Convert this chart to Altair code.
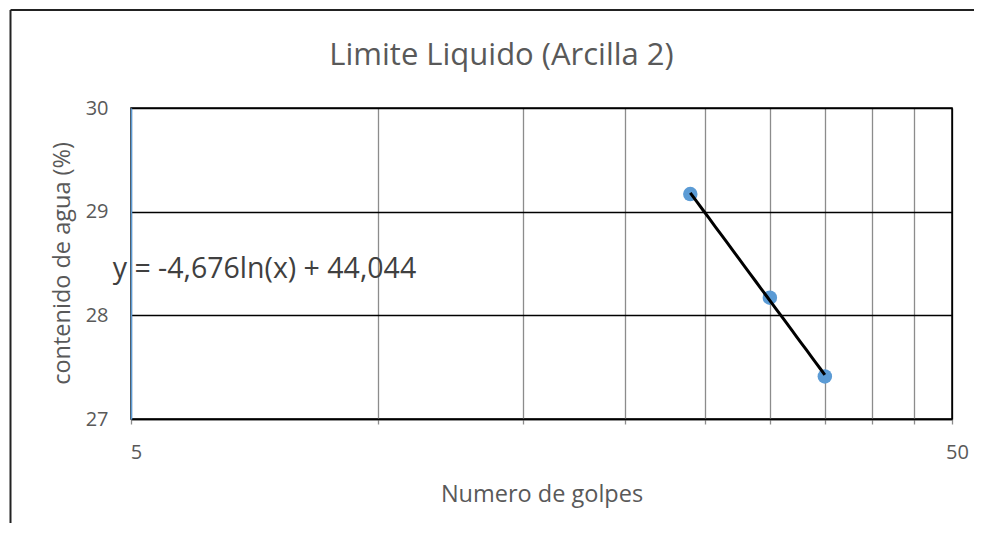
import altair as alt
import pandas as pd

# Data
golpes = [24, 30, 35]
agua = [29.17, 28.17, 27.41]

x_ticks = [5, 10, 15, 20, 25, 30, 35, 40, 45, 50]
y_ticks = [27, 28, 29, 30]

equation = "y = -4,676ln(x) + 44,044"
eq_x = 4.75
eq_y = 28.36

df = pd.DataFrame({"golpes": golpes, "agua": agua})
eq_df = pd.DataFrame({"golpes": [eq_x], "agua": [eq_y], "label": [equation]})
frame_df = pd.DataFrame({"k": [0]})

label_color = "#595959"

x_scale = alt.Scale(type="log", domain=[5, 50], nice=False)
y_scale = alt.Scale(domain=[27, 30], nice=False, zero=False)

x_axis = alt.Axis(
    values=x_ticks,
    labelExpr="(datum.value == 5 || datum.value == 50) ? datum.label : ''",
    grid=True,
    gridColor={"condition": {"test": "datum.value == 50", "value": "#000000"}, "value": "#8c8c8c"},
    gridWidth=1.3,
    tickColor="#8c8c8c",
    tickSize=5,
    tickWidth=1.3,
    domainColor="#000000",
    domainWidth=1.5,
    labelFontSize=20,
    labelColor=label_color,
    labelBaseline="middle",
    labelPadding=28,
    labelOffset=5,
    labelFlush=False,
    title="Numero de golpes",
    titleFontSize=23.5,
    titleFontWeight="normal",
    titleColor=label_color,
    titleX=410.5,
    titleY=75,
    titleBaseline="middle",
    titleAlign="center",
)

y_axis = alt.Axis(
    values=y_ticks,
    format="d",
    grid=True,
    gridColor="#000000",
    gridWidth=1.3,
    ticks=False,
    tickSize=0,
    domainColor="#5B9BD5",
    domainWidth=1.5,
    labelFontSize=20,
    labelColor=label_color,
    labelPadding=23,
    title="contenido de agua (%)",
    titleFontSize=23.5,
    titleFontWeight="normal",
    titleColor=label_color,
    titleX=-69,
    titleY=155,
    titleAngle=270,
    titleBaseline="middle",
    titleAlign="center",
)

points = alt.Chart(df).mark_circle(size=210, color="#5B9BD5", opacity=1).encode(
    x=alt.X("golpes:Q", scale=x_scale, axis=x_axis),
    y=alt.Y("agua:Q", scale=y_scale, axis=y_axis),
)

trend = (
    alt.Chart(df)
    .transform_regression("golpes", "agua", method="log")
    .mark_line(color="black", strokeWidth=3)
    .encode(x=alt.X("golpes:Q", scale=x_scale), y=alt.Y("agua:Q", scale=y_scale))
)

eq_text = alt.Chart(eq_df).mark_text(
    align="left", baseline="alphabetic", fontSize=28.5, color="#404040"
).encode(
    x=alt.X("golpes:Q", scale=x_scale),
    y=alt.Y("agua:Q", scale=y_scale),
    text="label:N",
)

frame_left = alt.Chart(frame_df).mark_rule(color="#222222", strokeWidth=2).encode(
    x=alt.value(-120.5), y=alt.value(-98), y2=alt.value(600)
)
frame_top = alt.Chart(frame_df).mark_rule(color="#222222", strokeWidth=2).encode(
    x=alt.value(-120.5), x2=alt.value(1000), y=alt.value(-98)
)

chart = (
    alt.layer(points, trend, eq_text, frame_left, frame_top)
    .properties(
        width=821,
        height=311,
        padding={"left": 123, "top": 100, "right": 22, "bottom": 104},
        autosize=alt.AutoSizeParams(type="none"),
        title=alt.TitleParams(
            "Limite Liquido (Arcilla 2)",
            fontSize=31,
            fontWeight="normal",
            color=label_color,
            anchor="middle",
            frame="group",
            dx=-40,
            baseline="alphabetic",
            offset=-87,
        ),
    )
    .configure(font="Open Sans")
    .configure_view(stroke="#000000", strokeWidth=1.5)
)

chart.save("out.html", embed_options={"renderer": "svg", "actions": False})
